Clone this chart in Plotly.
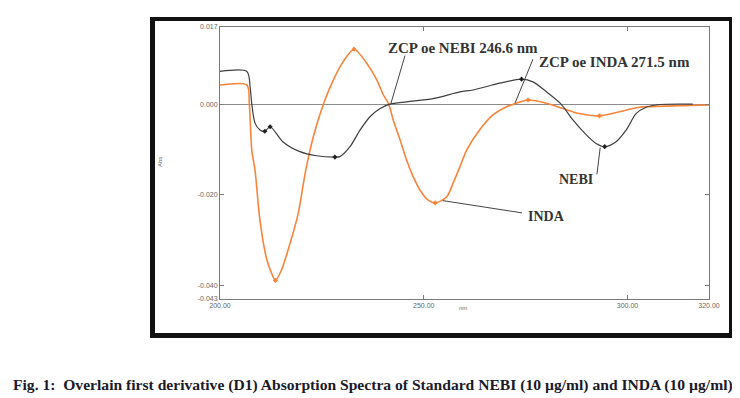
import plotly.graph_objects as go

# ---------------- data ----------------
nebi_x = [200.0, 206.6, 207.4, 207.8, 208.6, 209.8, 211.0, 212.3, 215.4, 219.6,
          223.7, 228.2, 229.4, 231.9, 234.4, 236.8, 239.3, 241.7, 245.8, 252.3,
          258.9, 262.1, 268.6, 274.0, 276.8, 280.1, 283.7, 286.6, 289.9, 292.3,
          294.4, 297.2, 299.7, 302.1, 304.6, 307.8, 316.0]
nebi_y = [0.0072, 0.0072, 0.0037, 0.0000, -0.0042, -0.0057, -0.0060, -0.0050, -0.0083, -0.0105,
          -0.0114, -0.0117, -0.0116, -0.0094, -0.0057, -0.0028, -0.0010, 0.0000, 0.0005, 0.0012,
          0.0027, 0.0031, 0.0046, 0.0055, 0.0049, 0.0027, 0.0000, -0.0035, -0.0068, -0.0087,
          -0.0094, -0.0083, -0.0057, -0.0021, -0.0007, -0.0001, 0.0000]

inda_x = [200.0, 206.6, 207.2, 207.8, 208.6, 209.8, 211.4, 212.7, 213.6, 215.1,
          217.2, 219.2, 221.0, 222.9, 225.3, 227.8, 230.2, 232.9, 236.0, 238.5,
          240.1, 241.4, 242.5, 244.2, 245.8, 247.4, 249.1, 251.1, 252.8, 255.6,
          257.5, 258.9, 260.5, 263.7, 267.0, 270.3, 272.7, 275.6, 280.1, 284.2,
          288.2, 293.1, 298.0, 302.9, 311.1, 320.0]
inda_y = [0.0042, 0.0042, 0.0000, -0.0102, -0.0146, -0.0256, -0.0340, -0.0374, -0.0389, -0.0366,
          -0.0307, -0.0241, -0.0148, -0.0072, -0.0002, 0.0053, 0.0093, 0.0121, 0.0090, 0.0053,
          0.0020, 0.0000, -0.0035, -0.0079, -0.0124, -0.0160, -0.0190, -0.0212, -0.0218, -0.0205,
          -0.0168, -0.0138, -0.0102, -0.0057, -0.0024, -0.0006, 0.0002, 0.0009, 0.0002, -0.0010,
          -0.0021, -0.0026, -0.0017, -0.0007, -0.0004, -0.0002]

# extrema picked by the instrument (peak markers)
nebi_peak_x = [211.0, 212.3, 228.2, 274.0, 294.4]
nebi_peak_y = [-0.0060, -0.0050, -0.0117, 0.0055, -0.0094]
inda_peak_x = [213.6, 232.9, 252.8, 275.6, 293.1]
inda_peak_y = [-0.0389, 0.0121, -0.0218, 0.0009, -0.0026]

x_tick_vals = [200, 250, 300, 320]
x_tick_text = ["200.00", "250.00", "300.00", "320.00"]
y_tick_vals = [0.017, 0.0, -0.020, -0.040, -0.043]
y_tick_text = ["0.017", "0.000", "-0.020", "-0.040", "-0.043"]

caption = ("Fig. 1:  Overlain first derivative (D1) Absorption Spectra of Standard "
           "NEBI (10 µg/ml) and INDA (10 µg/ml)")

NEBI_C = "#3f3f3f"
INDA_C = "#f7843a"

# ---------------- figure ----------------
# page has an 8px body margin, so the figure is drawn 8px in from the top-left
OFF = 8
W, H = 740 - OFF, 398 - OFF
# plot area in page pixels
L, R, T, B = 220, 709, 27, 299


def px2x(p):
    return (p - L) / (R - L)


def py2y(p):
    return (B - p) / (B - T)


fig = go.Figure()
fig.add_trace(go.Scatter(x=inda_x, y=inda_y, mode="lines",
                         line=dict(color=INDA_C, width=1.6, shape="spline", smoothing=0.8),
                         hoverinfo="skip", showlegend=False))
fig.add_trace(go.Scatter(x=nebi_x, y=nebi_y, mode="lines",
                         line=dict(color=NEBI_C, width=1.2, shape="spline", smoothing=0.8),
                         hoverinfo="skip", showlegend=False))
fig.add_trace(go.Scatter(x=inda_peak_x, y=inda_peak_y, mode="markers",
                         marker=dict(color=INDA_C, size=4, symbol="diamond"),
                         hoverinfo="skip", showlegend=False))
fig.add_trace(go.Scatter(x=nebi_peak_x, y=nebi_peak_y, mode="markers",
                         marker=dict(color="#222222", size=4, symbol="diamond"),
                         hoverinfo="skip", showlegend=False))

tick_font = dict(family="Liberation Sans", size=7, color="#666666")
fig.update_xaxes(range=[200, 320], tickvals=x_tick_vals, ticktext=x_tick_text,
                 showline=True, linecolor="#7a7a7a", linewidth=1, mirror="ticks",
                 ticks="inside", ticklen=4, tickcolor="#7a7a7a", showgrid=False,
                 zeroline=False, tickfont=tick_font)
fig.update_yaxes(range=[-0.043, 0.017], tickvals=y_tick_vals, ticktext=y_tick_text,
                 showline=True, linecolor="#7a7a7a", linewidth=1, mirror="ticks",
                 ticks="inside", ticklen=4, tickcolor="#7a7a7a", showgrid=False,
                 zeroline=True, zerolinecolor="#8c8c8c", zerolinewidth=1,
                 tickfont=tick_font)

shapes = []
# black picture frame
for (x0, y0, x1, y1) in [(150, 17, 155, 338), (150, 17, 737, 21),
                         (729, 17, 737, 338), (150, 333, 737, 338)]:
    shapes.append(dict(type="rect", xref="paper", yref="paper",
                       x0=px2x(x0), x1=px2x(x1), y0=py2y(y0), y1=py2y(y1),
                       fillcolor="#111111", line=dict(width=0), layer="above"))
# leader lines for the labels
lead = dict(color="#444444", width=1)
for (x0, y0, x1, y1) in [(245.4, 0.0107, 241.9, 0.0),
                         (276.8, 0.0099, 272.4, 0.0002),
                         (292.5, -0.0155, 293.3, -0.0096),
                         (274.1, -0.0240, 254.7, -0.0213)]:
    shapes.append(dict(type="line", xref="x", yref="y", x0=x0, y0=y0, x1=x1, y1=y1,
                       line=lead))

zcp_font = dict(family="Liberation Serif", size=15, color="#333333")
lab_font = dict(family="Liberation Serif", size=14, color="#333333")
annotations = [
    dict(x=259.6, y=0.01236, xref="x", yref="y", text="<b>ZCP oe NEBI 246.6 nm</b>",
         showarrow=False, font=zcp_font, xanchor="center", yanchor="middle"),
    dict(x=296.9, y=0.00934, xref="x", yref="y", text="<b>ZCP oe INDA 271.5 nm</b>",
         showarrow=False, font=zcp_font, xanchor="center", yanchor="middle"),
    dict(x=287.4, y=-0.01662, xref="x", yref="y", text="<b>NEBI</b>",
         showarrow=False, font=lab_font, xanchor="center", yanchor="middle"),
    dict(x=280.0, y=-0.02472, xref="x", yref="y", text="<b>INDA</b>",
         showarrow=False, font=lab_font, xanchor="center", yanchor="middle"),
    dict(x=px2x(463), y=py2y(308), xref="paper", yref="paper", text="nm",
         showarrow=False, xanchor="center", yanchor="middle",
         font=dict(family="Liberation Sans", size=6, color="#666666")),
    dict(x=px2x(160), y=py2y(162), xref="paper", yref="paper", text="Abs", textangle=-90,
         showarrow=False, xanchor="center", yanchor="middle",
         font=dict(family="Liberation Sans", size=6, color="#666666")),
    dict(x=px2x(373), y=py2y(385), xref="paper", yref="paper", text="<b>" + caption + "</b>",
         showarrow=False, xanchor="center", yanchor="middle",
         font=dict(family="Liberation Serif", size=15.6, color="#1a1a2a")),
]

fig.update_layout(width=W, height=H,
                  margin=dict(l=L - OFF, r=W - (R - OFF), t=T - OFF, b=H - (B - OFF)),
                  paper_bgcolor="white", plot_bgcolor="white",
                  shapes=shapes, annotations=annotations, showlegend=False)

fig.write_html("out.html")
